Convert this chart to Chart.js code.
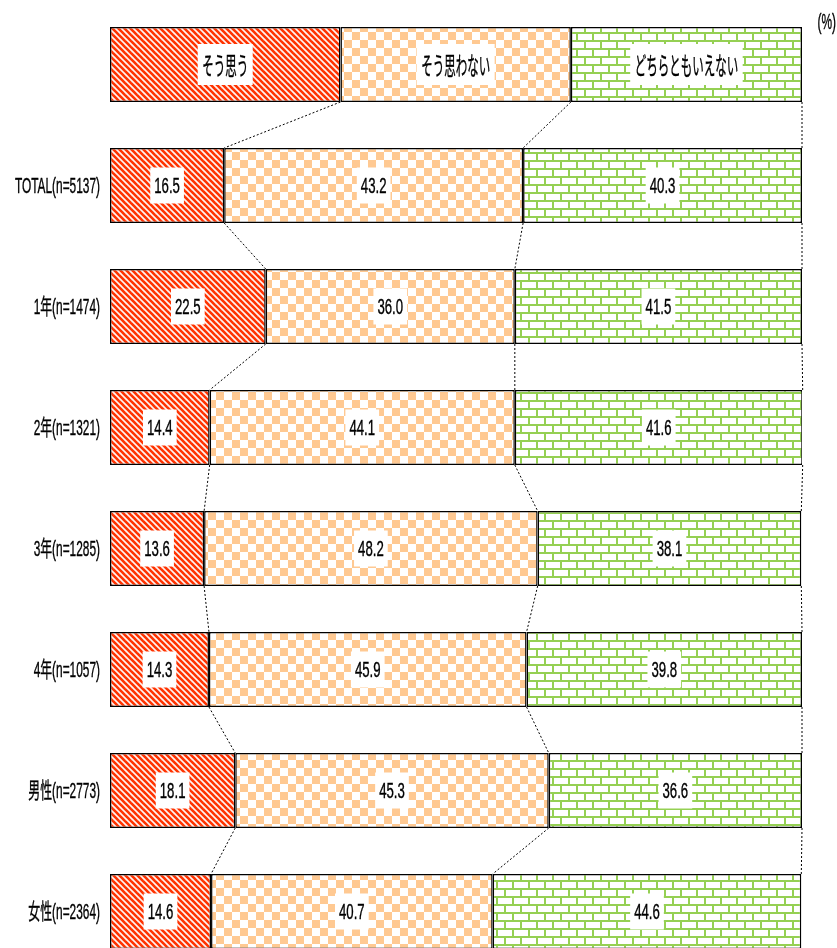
<!DOCTYPE html>
<html>
<head>
<meta charset="utf-8">
<script src="https://cdn.jsdelivr.net/npm/chart.js@4.4.1/dist/chart.umd.min.js"></script>
<style>
  html, body { margin: 0; padding: 0; background: #fff; overflow: hidden; }
  #wrap { width: 837px; height: 975px; position: relative; }
</style>
</head>
<body>
<div id="wrap"><canvas id="c"></canvas></div>
<script>
// ---- data ----
const seriesNames = ['そう思う', 'そう思わない', 'どちらともいえない'];
const legendShares = [33.3, 33.3, 33.4];
const rowLabels = ['TOTAL(n=5137)', '1年(n=1474)', '2年(n=1321)', '3年(n=1285)', '4年(n=1057)', '男性(n=2773)', '女性(n=2364)'];
const agree    = [16.5, 22.5, 14.4, 13.6, 14.3, 18.1, 14.6];
const disagree = [43.2, 36.0, 44.1, 48.2, 45.9, 45.3, 40.7];
const neutral  = [40.3, 41.5, 41.6, 38.1, 39.8, 36.6, 44.6];
const unitLabel = '(%)';

// ---- patterns ----
function makeTile(w, h, draw) {
  const c = document.createElement('canvas');
  c.width = w; c.height = h;
  const g = c.getContext('2d');
  draw(g, w, h);
  return document.createElement('canvas').getContext('2d').createPattern(c, 'repeat');
}
const stripePattern = makeTile(6, 6, (g, w, h) => {
  g.fillStyle = '#fff4f0'; g.fillRect(0, 0, w, h);
  g.strokeStyle = '#ff3300'; g.lineWidth = 2.6;
  for (const k of [-6, 0, 6]) {
    g.beginPath(); g.moveTo(k - 1, -1); g.lineTo(k + w + 1, h + 1); g.stroke();
  }
});
const checkPattern = makeTile(16, 16, (g) => {
  g.fillStyle = '#ffffff'; g.fillRect(0, 0, 16, 16);
  g.fillStyle = '#ffc992';
  g.fillRect(0, 0, 8, 8); g.fillRect(8, 8, 8, 8);
});
const brickPattern = makeTile(16, 16, (g) => {
  g.fillStyle = '#ffffff'; g.fillRect(0, 0, 16, 16);
  g.fillStyle = '#95d053';
  g.fillRect(0, 0, 16, 2);
  g.fillRect(0, 8, 16, 2);
  g.fillRect(0, 0, 2, 8);
  g.fillRect(8, 8, 2, 8);
});
const patterns = [stripePattern, checkPattern, brickPattern];

// ---- text helper (condensed text) ----
function drawText(ctx, text, x, y, font, scale, align) {
  ctx.save();
  ctx.font = font;
  ctx.textBaseline = 'middle';
  ctx.textAlign = align;
  ctx.translate(x, y);
  ctx.scale(scale, 1);
  ctx.fillStyle = '#000';
  ctx.strokeStyle = '#000';
  ctx.lineWidth = 0.4;
  ctx.fillText(text, 0, 0);
  ctx.strokeText(text, 0, 0);
  ctx.restore();
}
function textWidth(ctx, text, font, scale) {
  ctx.save(); ctx.font = font;
  const w = ctx.measureText(text).width * scale;
  ctx.restore();
  return w;
}
const NUM_FONT = '22px "Liberation Sans", "Noto Sans CJK JP", sans-serif';
const AX_FONT = '22px "Liberation Sans", "Noto Sans CJK JP", sans-serif';
const LEG_FONT = '25px "Noto Sans CJK JP", sans-serif';

const series = [agree, disagree, neutral];
const datasets = series.map((vals, k) => ({
  label: seriesNames[k],
  data: [legendShares[k]].concat(vals),
  backgroundColor: patterns[k],
  borderColor: '#000',
  borderWidth: 1.5,
  borderSkipped: false,
  barPercentage: 0.62,
  categoryPercentage: 1.0
}));

const overlay = {
  id: 'overlay',
  afterDatasetsDraw(chart) {
    const ctx = chart.ctx;
    const metas = [0, 1, 2].map(k => chart.getDatasetMeta(k).data);
    const n = metas[0].length;
    // connectors
    ctx.save();
    ctx.strokeStyle = '#000';
    ctx.lineWidth = 1;
    ctx.setLineDash([2, 2]);
    for (let i = 0; i < n - 1; i++) {
      for (let k = 0; k < 3; k++) {
        const a = metas[k][i], b = metas[k][i + 1];
        ctx.beginPath();
        ctx.moveTo(a.x, a.y + a.height / 2);
        ctx.lineTo(b.x, b.y - b.height / 2);
        ctx.stroke();
      }
    }
    ctx.restore();
    // labels in bars
    for (let k = 0; k < 3; k++) {
      for (let i = 0; i < n; i++) {
        const el = metas[k][i];
        const cx = (el.x + el.base) / 2, cy = el.y;
        let text, font, scale, bw, bh;
        if (i === 0) {
          text = seriesNames[k]; font = LEG_FONT; scale = 0.46;
          bw = textWidth(ctx, text, font, scale) + 9; bh = 41;
        } else {
          text = series[k][i - 1].toFixed(1); font = NUM_FONT; scale = 0.6;
          bw = textWidth(ctx, text, font, scale) + 8; bh = 36;
        }
        ctx.fillStyle = '#fff';
        ctx.fillRect(cx - bw / 2, cy - bh / 2, bw, bh);
        drawText(ctx, text, cx, cy + 1, font, scale, 'center');
      }
    }
    // category labels
    for (let i = 1; i < n; i++) {
      const el = metas[0][i];
      drawText(ctx, rowLabels[i - 1], 100, el.y + 1, AX_FONT, 0.54, 'right');
    }
    // unit label
    drawText(ctx, unitLabel, 836, 23, AX_FONT, 0.54, 'right');
  }
};

new Chart(document.getElementById('c'), {
  type: 'bar',
  data: { labels: [''].concat(rowLabels), datasets },
  options: {
    indexAxis: 'y',
    responsive: true,
    maintainAspectRatio: false,
    animation: false,
    devicePixelRatio: 1,
    layout: { padding: { top: 4, right: 35, bottom: 3, left: 110 } },
    scales: {
      x: { stacked: true, min: 0, max: 100, display: false },
      y: { stacked: true, display: false }
    },
    plugins: { legend: { display: false }, tooltip: { enabled: false } }
  },
  plugins: [overlay]
});
</script>
</body>
</html>
